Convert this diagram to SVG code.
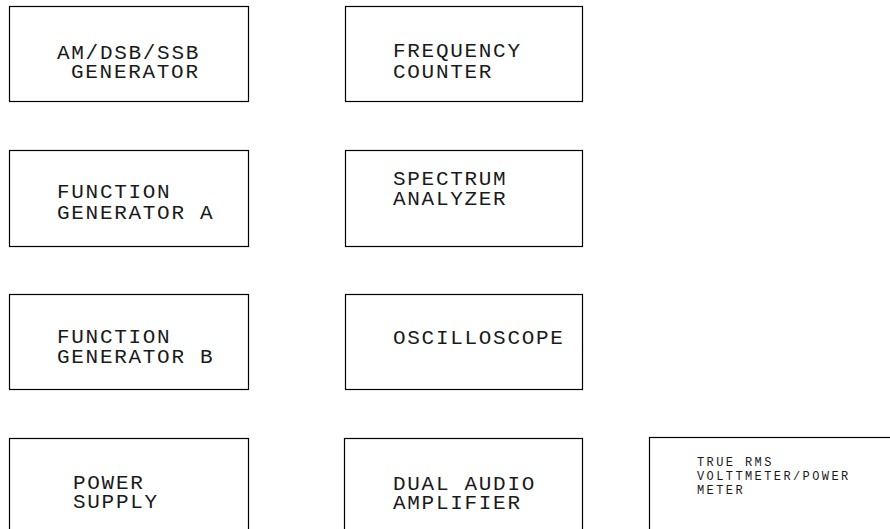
<svg xmlns="http://www.w3.org/2000/svg" width="890" height="529" viewBox="0 0 890 529">
<style>
rect{fill:none;stroke:#000;stroke-width:1.2}
text{font-family:"Liberation Mono","Courier New",monospace;font-size:21px;letter-spacing:1.7px;fill:#1a1a1a}
.s{font-size:12px;letter-spacing:2.4px}
</style>
<rect x="0" y="0" width="890" height="529" style="fill:#fff;stroke:none"/>
<g id="am-gen"><rect x="9.5" y="6.5" width="239" height="95"/><text x="57" y="59">AM/DSB/SSB</text><text x="71" y="78">GENERATOR</text></g>
<g id="freq-counter"><rect x="345.5" y="6.5" width="237" height="95"/><text x="393" y="57">FREQUENCY</text><text x="393" y="78">COUNTER</text></g>
<g id="func-gen-a"><rect x="9.5" y="150.5" width="239" height="96"/><text x="57" y="198">FUNCTION</text><text x="57" y="219">GENERATOR A</text></g>
<g id="spectrum"><rect x="345.5" y="150.5" width="237" height="96"/><text x="393" y="185">SPECTRUM</text><text x="393" y="205">ANALYZER</text></g>
<g id="func-gen-b"><rect x="9.5" y="294.5" width="239" height="95"/><text x="57" y="343">FUNCTION</text><text x="57" y="363">GENERATOR B</text></g>
<g id="oscilloscope"><rect x="345.5" y="294.5" width="237" height="95"/><text x="393" y="344">OSCILLOSCOPE</text></g>
<g id="power-supply"><rect x="9.5" y="438.5" width="239" height="100"/><text x="73" y="489">POWER</text><text x="73" y="508">SUPPLY</text></g>
<g id="audio-amp"><rect x="344.5" y="438.5" width="238" height="100"/><text x="393" y="490">DUAL AUDIO</text><text x="393" y="509">AMPLIFIER</text></g>
<g id="rms-meter"><rect x="649.5" y="437.5" width="260" height="100"/><text class="s" x="697" y="466">TRUE RMS</text><text class="s" x="697" y="480">VOLTTMETER/POWER</text><text class="s" x="697" y="494">METER</text></g>
<g id="connectors"></g>
</svg>
